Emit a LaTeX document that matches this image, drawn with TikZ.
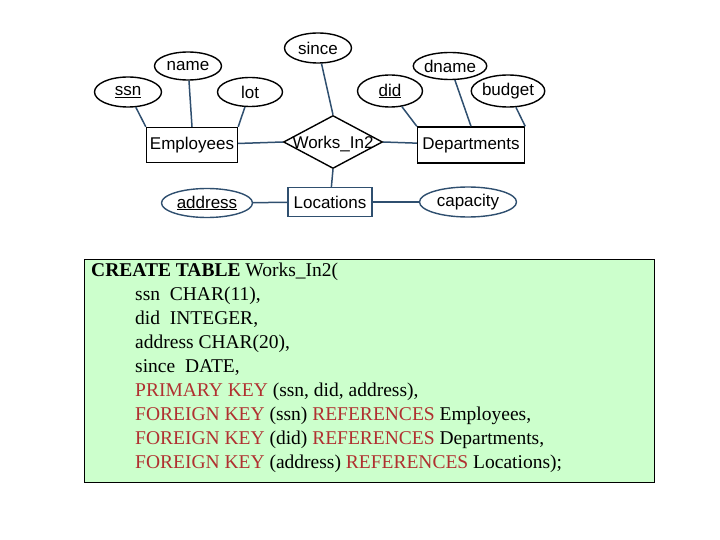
\documentclass[tikz,border=0pt]{standalone}
\usepackage{fontspec}
\setmainfont{Liberation Serif}
\setsansfont{Liberation Sans}
\usetikzlibrary{shapes.geometric}
\definecolor{ln}{HTML}{2F4F6F}
\definecolor{kw}{HTML}{B03030}
\definecolor{bx}{HTML}{CCFFCC}
\begin{document}
\begin{tikzpicture}[x=1pt,y=-1pt,
  lbl/.style={font=\sffamily\fontsize{17}{19}\selectfont},
  attr/.style={lbl,ellipse,draw=black,line width=1.4pt,inner sep=0pt},
  attrb/.style={attr,draw=ln},
  ent/.style={lbl,rectangle,draw=black,line width=1.4pt,inner sep=0pt},
  con/.style={draw=ln,line width=1.5pt}]
\useasboundingbox (0,0) rectangle (720,540);
\node[attr,minimum width=67,minimum height=30] (since) at (318,48) {since};
\node[attr,minimum width=67,minimum height=28] (name) at (188,66) {name};
\node[attr,minimum width=67,minimum height=30] (ssn) at (128,92) {\underline{ssn}};
\node[attr,minimum width=65,minimum height=29] (lot) at (250,92) {lot};
\node[ent,minimum width=91,minimum height=35] (emp) at (192,145) {Employees};
\node[diamond,draw=black,line width=1.4pt,inner sep=0pt,minimum width=99,minimum height=53] (rel) at (333,142) {};
\node[lbl] (reltxt) at (333,144) {Works\_In2};
\node[ent,minimum width=107,minimum height=36] (dep) at (471,145) {Departments};
\node[attr,minimum width=65,minimum height=32] (did) at (390,91) {\underline{did}};
\node[attr,minimum width=66,minimum height=27] (dname) at (450,66) {dname};
\node[attr,minimum width=59,minimum height=32] (budget) at (508,91) {budget};
\node[ent,draw=ln,minimum width=84,minimum height=29] (loc) at (330,202) {Locations};
\node[attrb,minimum width=91,minimum height=29] (addr) at (207,203) {\underline{address}};
\node[attrb,minimum width=97,minimum height=30] (cap) at (468,202) {capacity};
\draw[con] (ssn) -- (emp.north west);
\draw[con] (name) -- (emp.north);
\draw[con] (lot) -- (emp.north east);
\draw[con] (since) -- (rel.north);
\draw[con] (emp) -- (rel.west);
\draw[con] (rel.east) -- (dep);
\draw[con] (did) -- (dep.north west);
\draw[con] (dname) -- (dep.north);
\draw[con] (budget) -- (dep.north east);
\draw[con] (rel.south) -- (loc);
\draw[con] (addr) -- (loc);
\draw[con] (loc) -- (cap);
\node[draw=black,fill=bx,minimum width=570,minimum height=223,anchor=north west,inner sep=0pt] (box) at (84,259) {};
\node[anchor=north west,align=left,inner sep=0pt,font=\fontsize{19.5}{24}\selectfont] (code) at (91,263) {%
\textbf{CREATE TABLE} Works\_In2(\\
\hspace*{44pt}ssn\ \ CHAR(11),\\
\hspace*{44pt}did\ \ INTEGER,\\
\hspace*{44pt}address CHAR(20),\\
\hspace*{44pt}since\ \ DATE,\\
\hspace*{44pt}\textcolor{kw}{PRIMARY KEY} (ssn, did, address),\\
\hspace*{44pt}\textcolor{kw}{FOREIGN KEY} (ssn) \textcolor{kw}{REFERENCES} Employees,\\
\hspace*{44pt}\textcolor{kw}{FOREIGN KEY} (did) \textcolor{kw}{REFERENCES} Departments,\\
\hspace*{44pt}\textcolor{kw}{FOREIGN KEY} (address) \textcolor{kw}{REFERENCES} Locations);};
\end{tikzpicture}
\end{document}
